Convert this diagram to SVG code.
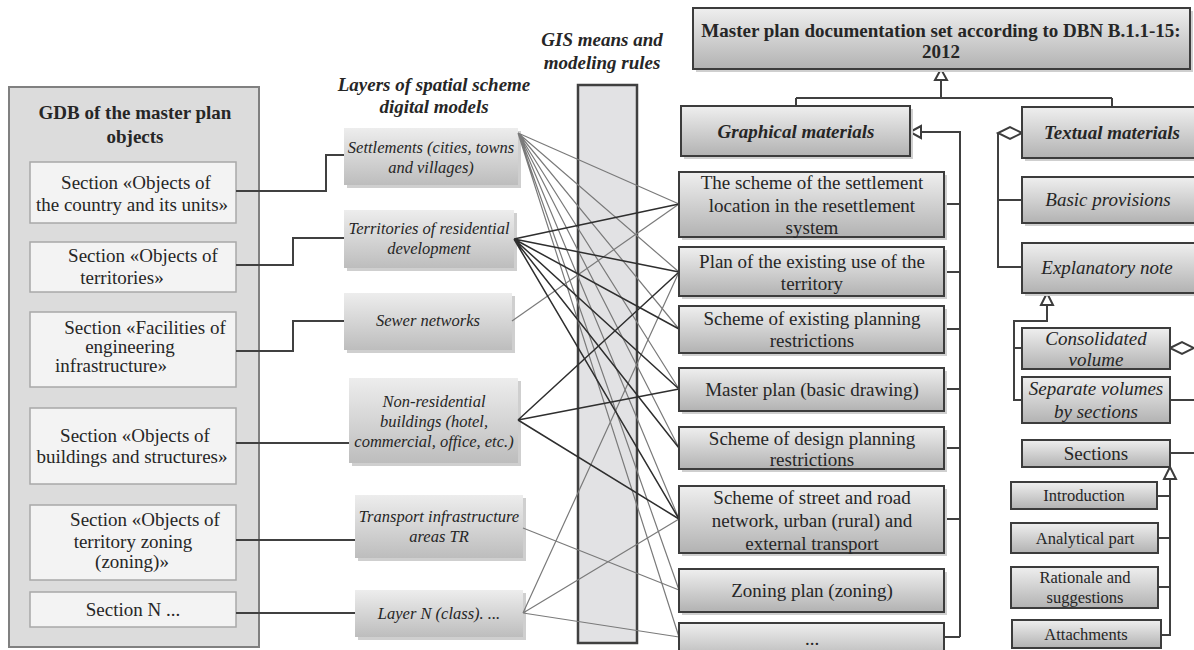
<svg xmlns="http://www.w3.org/2000/svg" width="1194" height="650" viewBox="0 0 1194 650">
<defs>
<linearGradient id="gbox" x1="0" y1="0" x2="0" y2="1"><stop offset="0" stop-color="#efefef"/><stop offset="1" stop-color="#b2b2b2"/></linearGradient>
<linearGradient id="glay" x1="0" y1="0" x2="0" y2="1"><stop offset="0" stop-color="#ededed"/><stop offset="1" stop-color="#bdbdbd"/></linearGradient>
<style>
text{font-family:"Liberation Serif","Times New Roman",serif;fill:#262626;text-anchor:middle}
.t17{font-size:19px}
.t14{font-size:16.5px}
.b{font-weight:bold}
.i{font-style:italic}
.box{fill:url(#gbox);stroke:#3c3c3c;stroke-width:2}
.sh{fill:#cfcfcf}
.lay{fill:url(#glay)}
.inner{fill:#f3f3f3;stroke:#a8a8a8;stroke-width:1.5}
.con{fill:none;stroke:#404040;stroke-width:2}
.lg{fill:none;stroke:#7a7a7a;stroke-width:1.2}
.ld{fill:none;stroke:#2e2e2e;stroke-width:1.5}
.hol{fill:#fff;stroke:#3c3c3c;stroke-width:2}
</style>
</defs>
<rect width="1194" height="650" fill="#fff"/>

<!-- headers -->
<g id="hdr-gis"><text class="t17 b i" x="602" y="46">GIS means and</text><text class="t17 b i" x="602" y="69">modeling rules</text></g>
<g id="hdr-layers"><text class="t17 b i" x="434" y="91">Layers of spatial scheme</text><text class="t17 b i" x="434" y="113">digital models</text></g>

<!-- GDB panel -->
<g id="gdb">
<rect x="9" y="87" width="250" height="560" fill="#dcdcdc" stroke="#808080" stroke-width="2"/>
<text class="t17 b" x="135" y="119">GDB of the master plan</text>
<text class="t17 b" x="135" y="143">objects</text>
</g>
<g id="sec1"><rect class="inner" x="30" y="162" width="206" height="61"/><text class="t17" x="136" y="189">Section «Objects of</text><text class="t17" x="132" y="211">the country and its units»</text></g>
<g id="sec2"><rect class="inner" x="30" y="242" width="206" height="50"/><text class="t17" x="143" y="262">Section «Objects of</text><text class="t17" x="122" y="284">territories»</text></g>
<g id="sec3"><rect class="inner" x="30" y="312" width="206" height="75"/><text class="t17" x="145" y="334">Section «Facilities of</text><text class="t17" x="130" y="353">engineering</text><text class="t17" x="111" y="372">infrastructure»</text></g>
<g id="sec4"><rect class="inner" x="30" y="408" width="206" height="76"/><text class="t17" x="135" y="442">Section «Objects of</text><text class="t17" x="132" y="463">buildings and structures»</text></g>
<g id="sec5"><rect class="inner" x="30" y="505" width="206" height="75"/><text class="t17" x="145" y="526">Section «Objects of</text><text class="t17" x="133" y="548">territory zoning</text><text class="t17" x="132" y="568">(zoning)»</text></g>
<g id="sec6"><rect class="inner" x="30" y="592" width="206" height="35"/><text class="t17" x="133" y="616">Section N ...</text></g>

<!-- layers -->
<g id="lay1"><rect class="sh" x="347" y="131" width="174" height="57"/><rect class="lay" x="344" y="128" width="174" height="57"/><text class="t14 i" x="431" y="153">Settlements (cities, towns</text><text class="t14 i" x="431" y="173">and villages)</text></g>
<g id="lay2"><rect class="sh" x="347" y="213" width="170" height="58"/><rect class="lay" x="344" y="210" width="170" height="58"/><text class="t14 i" x="429" y="234">Territories of residential</text><text class="t14 i" x="429" y="254">development</text></g>
<g id="lay3"><rect class="sh" x="347" y="296" width="168" height="57"/><rect class="lay" x="344" y="293" width="168" height="57"/><text class="t14 i" x="428" y="326">Sewer networks</text></g>
<g id="lay4"><rect class="sh" x="352" y="381" width="169" height="85"/><rect class="lay" x="349" y="378" width="169" height="85"/><text class="t14 i" x="434" y="407">Non-residential</text><text class="t14 i" x="434" y="427">buildings (hotel,</text><text class="t14 i" x="434" y="447">commercial, office, etc.)</text></g>
<g id="lay5"><rect class="sh" x="358" y="498" width="168" height="63"/><rect class="lay" x="355" y="495" width="168" height="63"/><text class="t14 i" x="439" y="522">Transport infrastructure</text><text class="t14 i" x="439" y="542">areas TR</text></g>
<g id="lay6"><rect class="sh" x="358" y="593" width="168" height="47"/><rect class="lay" x="355" y="590" width="168" height="47"/><text class="t14 i" x="439" y="619">Layer N (class). ...</text></g>

<!-- GIS column -->
<g id="gis"><rect x="578" y="85" width="59" height="558" fill="#e2e2e4" stroke="#404040" stroke-width="2.5"/></g>

<!-- connectors -->
<g id="connectors">
<path class="con" d="M236 191H326V155H344"/>
<path class="con" d="M236 265H293V238H344"/>
<path class="con" d="M236 351H293V321H344"/>
<path class="con" d="M236 443H349"/>
<path class="con" d="M236 540H355"/>
<path class="con" d="M236 613H355"/>
<g class="lg">
<path d="M518 133L679 204M518 133L679 272M518 133L679 329M518 133L679 389M518 133L679 448M518 133L679 519M518 133L679 590M518 133L679 637"/>
<path d="M512 321L679 204"/>
<path d="M523 528L679 590"/>
<path d="M523 613L679 272M523 613L679 519M523 613L679 637"/>
</g>
<g class="ld">
<path d="M514 239L679 204M514 239L679 272M514 239L679 329M514 239L679 389M514 239L679 448M514 239L679 519"/>
<path d="M518 420L679 272M518 420L679 389M518 420L679 519"/>
</g>
<path class="con" d="M941 80V98M796 98H1112M796 98V106M1112 98V107"/>
<path class="con" d="M921 132H960V637M944 204H960M944 272H960M944 329H960M944 389H960M944 448H960M944 519H960M944 637H960"/>
<path class="con" d="M998 133V267H1022M998 200H1022"/>
<path class="con" d="M1047 305V321H1014V400H1022M1014 348H1022M1170 400H1194M1170 453H1194"/>
<path class="con" d="M1170 479V635H1161M1157 496H1170M1158 538H1170M1158 587H1170"/>
<polygon class="hol" points="941,69 935,80 947,80"/>
<polygon class="hol" points="910,132 921,126 921,138"/>
<polygon class="hol" points="1022,133 1010,127 998,133 1010,139"/>
<polygon class="hol" points="1047,293 1041,305 1053,305"/>
<polygon class="hol" points="1170,348 1182,342 1194,348 1182,354"/>
<polygon class="hol" points="1170,467 1164,479 1176,479"/>
</g>

<!-- right column -->
<g id="title"><rect class="sh" x="696" y="11" width="497" height="61"/><rect class="box" x="693" y="8" width="497" height="61"/><text class="t17 b" x="941" y="37">Master plan documentation set according to DBN B.1.1-15:</text><text class="t17 b" x="941" y="58">2012</text></g>
<g id="graph"><rect class="sh" x="684" y="109" width="229" height="50"/><rect class="box" x="681" y="106" width="229" height="50"/><text class="t17 b i" x="796" y="138">Graphical materials</text></g>
<g id="g1"><rect class="sh" x="682" y="175" width="265" height="65"/><rect class="box" x="679" y="172" width="265" height="65"/><text class="t17" x="812" y="189">The scheme of the settlement</text><text class="t17" x="812" y="212">location in the resettlement</text><text class="t17" x="812" y="234">system</text></g>
<g id="g2"><rect class="sh" x="682" y="250" width="265" height="49"/><rect class="box" x="679" y="247" width="265" height="49"/><text class="t17" x="812" y="268">Plan of the existing use of the</text><text class="t17" x="812" y="290">territory</text></g>
<g id="g3"><rect class="sh" x="682" y="309" width="265" height="47"/><rect class="box" x="679" y="306" width="265" height="47"/><text class="t17" x="812" y="325">Scheme of existing planning</text><text class="t17" x="812" y="347">restrictions</text></g>
<g id="g4"><rect class="sh" x="682" y="371" width="265" height="43"/><rect class="box" x="679" y="368" width="265" height="43"/><text class="t17" x="812" y="396">Master plan (basic drawing)</text></g>
<g id="g5"><rect class="sh" x="682" y="430" width="265" height="42"/><rect class="box" x="679" y="427" width="265" height="42"/><text class="t17" x="812" y="445">Scheme of design planning</text><text class="t17" x="812" y="466">restrictions</text></g>
<g id="g6"><rect class="sh" x="682" y="489" width="265" height="67"/><rect class="box" x="679" y="486" width="265" height="67"/><text class="t17" x="812" y="504">Scheme of street and road</text><text class="t17" x="812" y="527">network, urban (rural) and</text><text class="t17" x="812" y="550">external transport</text></g>
<g id="g7"><rect class="sh" x="682" y="572" width="265" height="43"/><rect class="box" x="679" y="569" width="265" height="43"/><text class="t17" x="812" y="597">Zoning plan (zoning)</text></g>
<g id="g8"><rect class="box" x="679" y="623" width="265" height="40"/><text class="t17" x="812" y="645">...</text></g>

<g id="textual"><rect class="sh" x="1025" y="110" width="180" height="51"/><rect class="box" x="1022" y="107" width="180" height="51"/><text class="t17 b i" x="1112" y="139">Textual materials</text></g>
<g id="basic"><rect class="sh" x="1025" y="180" width="180" height="46"/><rect class="box" x="1022" y="177" width="180" height="46"/><text class="t17 i" x="1108" y="206">Basic provisions</text></g>
<g id="explan"><rect class="sh" x="1025" y="246" width="180" height="50"/><rect class="box" x="1022" y="243" width="180" height="50"/><text class="t17 i" x="1107" y="274">Explanatory note</text></g>
<g id="consol"><rect class="box" x="1022" y="328" width="148" height="41"/><text class="t17 i" x="1096" y="345">Consolidated</text><text class="t17 i" x="1096" y="366">volume</text></g>
<g id="separ"><rect class="box" x="1022" y="377" width="148" height="46"/><text class="t17 i" x="1096" y="395">Separate volumes</text><text class="t17 i" x="1096" y="418">by sections</text></g>
<g id="sections"><rect class="box" x="1022" y="440" width="148" height="27"/><text class="t17" x="1096" y="460">Sections</text></g>
<g id="intro"><rect class="box" x="1011" y="482" width="146" height="27"/><text class="t14" x="1084" y="501">Introduction</text></g>
<g id="analyt"><rect class="box" x="1011" y="523" width="147" height="30"/><text class="t14" x="1085" y="544">Analytical part</text></g>
<g id="ration"><rect class="box" x="1011" y="567" width="147" height="41"/><text class="t14" x="1085" y="583">Rationale and</text><text class="t14" x="1085" y="603">suggestions</text></g>
<g id="attach"><rect class="box" x="1012" y="620" width="149" height="28"/><text class="t14" x="1086" y="640">Attachments</text></g>
</svg>
